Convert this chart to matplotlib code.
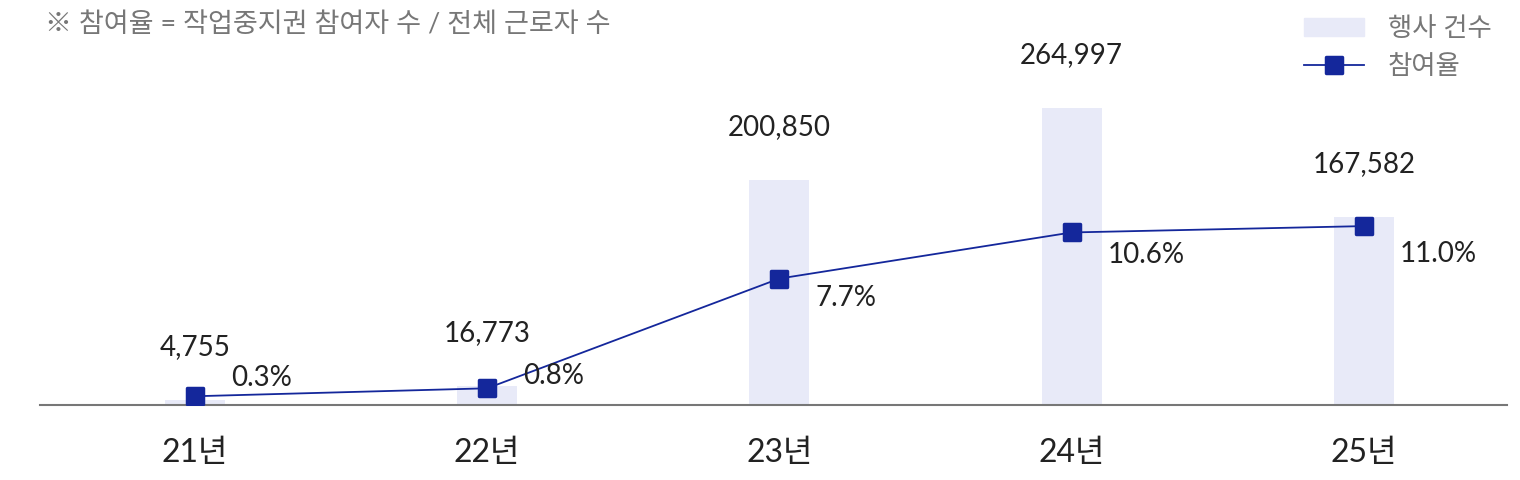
import matplotlib.pyplot as plt
from matplotlib.lines import Line2D
from matplotlib.markers import MarkerStyle
from matplotlib.patches import Patch

plt.rcParams['font.family'] = ['Lato', 'Noto Sans CJK KR', 'DejaVu Sans']

years = ['21년', '22년', '23년', '24년', '25년']
counts = [4755, 16773, 200850, 264997, 167582]
rates = [0.3, 0.8, 7.7, 10.6, 11.0]

bar_color = '#e8eaf8'
line_color = '#14279b'
gray = '#777777'
dark = '#222222'

fig = plt.figure(figsize=(15.2, 4.8), dpi=100)
ax = fig.add_axes([40 / 1520, 75 / 480, 1467 / 1520, 385 / 480])
x = range(len(years))

ax.bar(x, counts, width=0.205, color=bar_color, zorder=1)
ax.set_xlim(-0.53, 4.49)
ax.set_ylim(0, 343500)
ax.set_xticks(list(x))
ax.set_xticklabels(years, fontsize=23, color=dark)
ax.tick_params(axis='x', length=0, pad=24)
ax.set_yticks([])
for s in ['top', 'left', 'right']:
    ax.spines[s].set_visible(False)
ax.spines['bottom'].set_color(gray)
ax.spines['bottom'].set_linewidth(1.5)

for i, v in enumerate(counts):
    ax.annotate(f'{v:,}', (i, v), xytext=(0, 38), textcoords='offset points',
                ha='center', va='center', fontsize=20, color=dark)

ax2 = ax.twinx()
ax2.set_ylim(-0.25, 23.96)
ax2.set_yticks([])
for s in ax2.spines.values():
    s.set_visible(False)
marker = MarkerStyle('s', joinstyle='round')
ax2.plot(list(x), rates, color=line_color, lw=1.3, marker=marker, markersize=12,
         markeredgewidth=2.5, markeredgecolor=line_color, markerfacecolor=line_color,
         zorder=3)

rate_dy = [13, 9, -14, -16, -20]
for i, r in enumerate(rates):
    ax2.annotate(f'{r:.1f}%', (i, r), xytext=(26, rate_dy[i]), textcoords='offset points',
                 ha='left', va='center', fontsize=20, color=dark)

fig.text(45 / 1520, 1 - 25 / 480, '※ 참여율 = 작업중지권 참여자 수 / 전체 근로자 수',
         fontsize=19.5, color=gray, ha='left', va='center')

handles = [Patch(color=bar_color, label='행사 건수'),
           Line2D([], [], color=line_color, lw=1.3, marker=marker, markersize=12,
                  markeredgewidth=2.5, label='참여율')]
leg = fig.legend(handles=handles, loc='upper right', bbox_to_anchor=(1505 / 1520, 1 - 3 / 480),
                 frameon=False, fontsize=19, handlelength=2.3, handletextpad=0.9,
                 labelspacing=0.5, borderpad=0)
for t in leg.get_texts():
    t.set_color(gray)

fig.savefig('out.png', dpi=100)
